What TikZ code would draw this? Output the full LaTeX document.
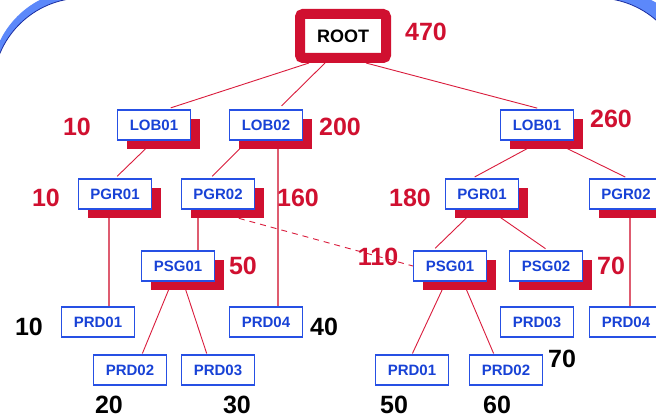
\documentclass[tikz,border=0pt]{standalone}
\usepackage{fontspec}
\newfontfamily\slidefont{Liberation Sans}
\usetikzlibrary{positioning,shadows,calc}
\definecolor{crimson}{RGB}{208,16,48}
\definecolor{linered}{RGB}{218,28,60}
\definecolor{stempink}{RGB}{222,92,112}
\definecolor{boxblue}{RGB}{38,80,228}
\definecolor{txtblue}{RGB}{24,66,214}
\definecolor{bandblue}{RGB}{92,136,250}
\definecolor{navy}{RGB}{22,42,160}
\pgfdeclarelayer{slide}
\pgfdeclarelayer{wires}
\pgfsetlayers{slide,wires,main}

\begin{document}
\begin{tikzpicture}[x=1pt, y=-1pt,
    box/.style={draw=boxblue, line width=1.2pt, fill=white, text=txtblue, font=\slidefont\bfseries\fontsize{15}{15}\selectfont, minimum width=73pt, minimum height=30pt, inner sep=0pt},
    shadowbox/.style={box, drop shadow={fill=crimson, opacity=1, shadow xshift=9pt, shadow yshift=-9pt}},
    rootbox/.style={draw=crimson, line width=10pt, rounded corners=3pt, fill=white, text=black, font=\slidefont\bfseries\fontsize{18}{18}\selectfont, minimum width=86pt, minimum height=44pt, inner sep=0pt},
    num/.style={font=\slidefont\bfseries\fontsize{25}{25}\selectfont, text=crimson, inner sep=0pt},
    leafnum/.style={num, text=black},
    tree/.style={draw=linered, line width=0.9pt, shorten >=3pt},
    stem/.style={draw=stempink, line width=1.3pt},
    link/.style={draw=linered, line width=0.9pt, dash pattern=on 6pt off 5pt}]
    \useasboundingbox (0,0) rectangle (656,419);
    \clip (0,0) rectangle (656,419);

    % slide frame
    \begin{pgfonlayer}{slide}
        \clip (0,0) rectangle (656,419);
        \fill[bandblue, rounded corners=90pt] (-9,-10) rectangle (700,600);
        \filldraw[fill=white, draw=navy, line width=0.8pt, rounded corners=90pt] (-7,-2) rectangle (687,600);
    \end{pgfonlayer}

    % hierarchy
    \node[rootbox] (root) at (343,36) {ROOT};

    \node[shadowbox] (lobA) at (154,125) {LOB01};
    \node[shadowbox] (lobB) at (266,125) {LOB02};
    \node[shadowbox] (lobC) at (537,125) {LOB01};

    \node[shadowbox] (pgrA) at (115,194) {PGR01};
    \node[shadowbox] (pgrB) at (218,194) {PGR02};
    \node[shadowbox] (pgrC) at (482,194) {PGR01};
    \node[shadowbox] (pgrD) at (626,194) {PGR02};

    \node[shadowbox] (psgA) at (178,266) {PSG01};
    \node[shadowbox] (psgD) at (450,266) {PSG01};
    \node[shadowbox] (psgE) at (546,266) {PSG02};

    \node[box] (prdA) at (98,322) {PRD01};
    \node[box] (prdD) at (266,322) {PRD04};
    \node[box] (prdB) at (130,370) {PRD02};
    \node[box] (prdC) at (218,370) {PRD03};
    \node[box] (prdG) at (537,322) {PRD03};
    \node[box] (prdH) at (626,322) {PRD04};
    \node[box] (prdE) at (412,370) {PRD01};
    \node[box] (prdF) at (506,370) {PRD02};

    % values
    \node[num, right of=root, node distance=83pt, yshift=4pt] (rootval) {470};
    \node[num, left of=lobA, node distance=77pt, yshift=-2pt] (lobAval) {10};
    \node[num, right of=lobB, node distance=74pt, yshift=-2pt] (lobBval) {200};
    \node[num, right of=lobC, node distance=74pt, yshift=6pt] (lobCval) {260};
    \node[num, left of=pgrA, node distance=69pt, yshift=-4pt] (pgrAval) {10};
    \node[num, right of=pgrB, node distance=80pt, yshift=-4pt] (pgrBval) {160};
    \node[num, left of=pgrC, node distance=72pt, yshift=-4pt] (pgrCval) {180};
    \node[num, right of=psgA, node distance=65pt] (psgAval) {50};
    \node[num, left of=psgD, node distance=72pt, yshift=9pt] (psgDval) {110};
    \node[num, right of=psgE, node distance=65pt] (psgEval) {70};
    \node[leafnum, left of=prdA, node distance=69pt, yshift=-5pt] (prdAval) {10};
    \node[leafnum, right of=prdD, node distance=58pt, yshift=-5pt] (prdDval) {40};
    \node[leafnum, right of=prdG, node distance=25pt, yshift=-37pt] (prdGval) {70};
    \node[leafnum] (prdBval) at (109,405) {20};
    \node[leafnum] (prdCval) at (237,405) {30};
    \node[leafnum] (prdEval) at (394,405) {50};
    \node[leafnum] (prdFval) at (497,405) {60};

    % connectors
    \begin{pgfonlayer}{wires}
        \draw[tree, shorten >=5pt] ([xshift=-34pt]root.south) -- ([xshift=12pt]lobA.north);
        \draw[tree, shorten >=5pt] ([xshift=-18pt]root.south) -- ([xshift=12pt]lobB.north);
        \draw[tree, shorten >=5pt] ([xshift=23pt]root.south) -- ([xshift=5pt]lobC.north);
        \draw[tree] (lobA.south) -- (pgrA.north);
        \draw[tree] ([xshift=-18pt]lobB.south) -- ([xshift=-8pt]pgrB.north);
        \draw[tree] ([xshift=5pt]lobC.south) -- ([xshift=-10pt]pgrC.north);
        \draw[tree] ([xshift=14pt]lobC.south) -- ([xshift=2pt]pgrD.north);
        \draw[tree] ([xshift=-7pt]pgrC.south) -- ([xshift=-17pt]psgD.north);
        \draw[tree] ([xshift=7pt]pgrC.south) -- ([xshift=2pt]psgE.north);
        \draw[tree, shorten >=1pt] ([xshift=-6pt]psgA.south) -- ([xshift=12pt]prdB.north);
        \draw[tree, shorten >=1pt] ([xshift=5pt]psgA.south) -- ([xshift=-11pt]prdC.north);
        \draw[tree, shorten >=1pt] ([xshift=-4pt]psgD.south) -- (prdE.north);
        \draw[tree, shorten >=1pt] ([xshift=13pt]psgD.south) -- ([xshift=-12pt]prdF.north);

        \draw[stem] ([xshift=12pt]lobB.south) -- ([xshift=12pt]lobB.south |- prdD.north);
        \draw[stem] ([xshift=-6pt]pgrA.south) -- ([xshift=-6pt]pgrA.south |- prdA.north);
        \draw[stem] ([xshift=-20pt]pgrB.south) -- ([xshift=-20pt]pgrB.south |- psgA.north);
        \draw[stem] ([xshift=4pt]pgrD.south) -- ([xshift=4pt]pgrD.south |- prdH.north);

        \draw[link] ([xshift=-11pt]pgrB.south) -- (psgD.west);
    \end{pgfonlayer}
\end{tikzpicture}
\end{document}
